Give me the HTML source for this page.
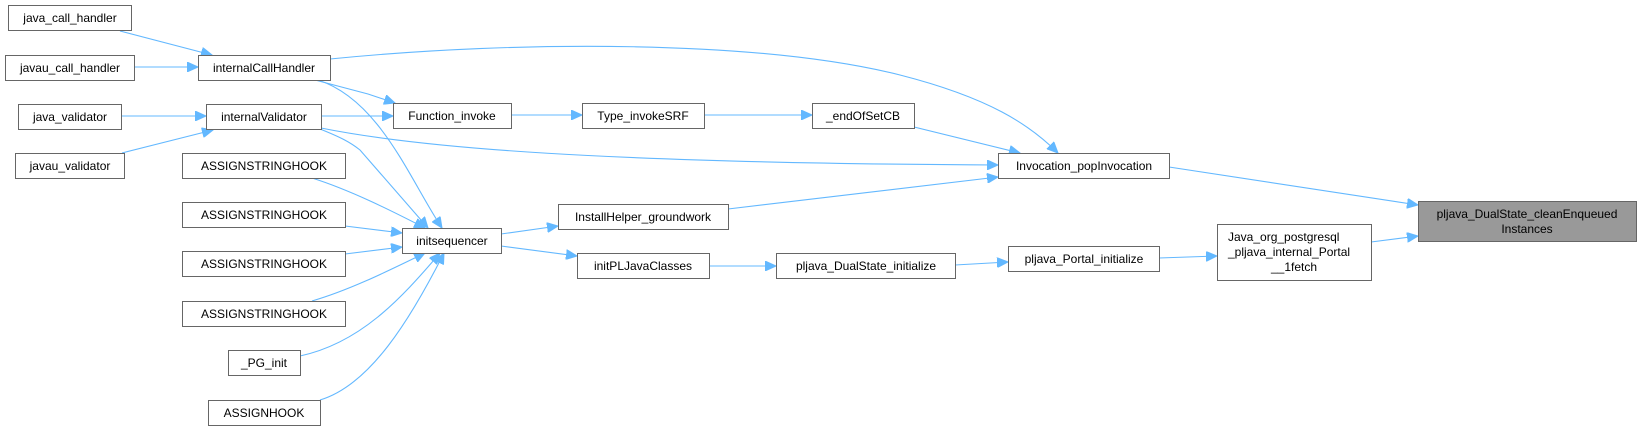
<!DOCTYPE html>
<html><head><meta charset="utf-8"><style>
html,body{margin:0;padding:0;background:#fff;}
svg{display:block;}
text{font-family:"Liberation Sans",Arial,sans-serif;font-size:12px;fill:#000;}
.n{fill:#fff;stroke:#666;stroke-width:1;}
.e{fill:none;stroke:#63b8ff;stroke-width:1.1;}
</style></head><body>
<svg width="1641" height="431" viewBox="0 0 1641 431" xmlns="http://www.w3.org/2000/svg">
<defs>
<marker id="a" markerUnits="userSpaceOnUse" markerWidth="12" markerHeight="10" refX="11" refY="5" orient="auto">
<path d="M0,0 L11,5 L0,10 Z" fill="#63b8ff" stroke="#63b8ff"/>
</marker>
</defs>
<g>
<path class="e" marker-end="url(#a)" d="M120,31 L212,55"/>
<path class="e" marker-end="url(#a)" d="M134,67 L198,67"/>
<path class="e" marker-end="url(#a)" d="M121,116 L206,116"/>
<path class="e" marker-end="url(#a)" d="M122,153 L213,130"/>
<path class="e" marker-end="url(#a)" d="M330,59 C520,40 760,40 900,75 C990,98 1030,125 1058,153"/>
<path class="e" marker-end="url(#a)" d="M315,80 L368,94 L395,103"/>
<path class="e" marker-end="url(#a)" d="M318,80 C380,100 410,180 442,228"/>
<path class="e" marker-end="url(#a)" d="M321,116 L393,116"/>
<path class="e" marker-end="url(#a)" d="M321,128 C420,148 600,163 998,165"/>
<path class="e" marker-end="url(#a)" d="M320,129 C340,137 350,142 360,150 L428,228"/>
<path class="e" marker-end="url(#a)" d="M312,178 C350,190 390,210 425,228"/>
<path class="e" marker-end="url(#a)" d="M345,226 L402,233"/>
<path class="e" marker-end="url(#a)" d="M345,254 L402,247"/>
<path class="e" marker-end="url(#a)" d="M312,301 C350,290 390,270 425,253"/>
<path class="e" marker-end="url(#a)" d="M300,356 C360,343 400,300 440,253"/>
<path class="e" marker-end="url(#a)" d="M320,400 C370,385 410,320 444,253"/>
<path class="e" marker-end="url(#a)" d="M511,115 L582,115"/>
<path class="e" marker-end="url(#a)" d="M704,115 L812,115"/>
<path class="e" marker-end="url(#a)" d="M914,127 L1020,153"/>
<path class="e" marker-end="url(#a)" d="M501,234 L558,226"/>
<path class="e" marker-end="url(#a)" d="M501,246 L577,256"/>
<path class="e" marker-end="url(#a)" d="M728,209 L998,177"/>
<path class="e" marker-end="url(#a)" d="M709,266 L776,266"/>
<path class="e" marker-end="url(#a)" d="M955,265 L1008,262"/>
<path class="e" marker-end="url(#a)" d="M1159,258 L1217,256"/>
<path class="e" marker-end="url(#a)" d="M1169,167 L1418,205"/>
<path class="e" marker-end="url(#a)" d="M1371,242 L1418,236"/>
</g>
<g>
<rect class="n" x="8.5" y="5.5" width="123" height="25"/><text x="70" y="22" text-anchor="middle">java_call_handler</text>
<rect class="n" x="5.5" y="55.5" width="129" height="25"/><text x="70" y="72" text-anchor="middle">javau_call_handler</text>
<rect class="n" x="18.5" y="104.5" width="103" height="25"/><text x="70" y="121" text-anchor="middle">java_validator</text>
<rect class="n" x="15.5" y="153.5" width="109" height="25"/><text x="70" y="170" text-anchor="middle">javau_validator</text>
<rect class="n" x="198.5" y="55.5" width="132" height="25"/><text x="264" y="72" text-anchor="middle">internalCallHandler</text>
<rect class="n" x="206.5" y="104.5" width="115" height="25"/><text x="264" y="121" text-anchor="middle">internalValidator</text>
<rect class="n" x="182.5" y="153.5" width="163" height="25"/><text x="264" y="170" text-anchor="middle">ASSIGNSTRINGHOOK</text>
<rect class="n" x="182.5" y="202.5" width="163" height="25"/><text x="264" y="219" text-anchor="middle">ASSIGNSTRINGHOOK</text>
<rect class="n" x="182.5" y="251.5" width="163" height="25"/><text x="264" y="268" text-anchor="middle">ASSIGNSTRINGHOOK</text>
<rect class="n" x="182.5" y="301.5" width="163" height="25"/><text x="264" y="318" text-anchor="middle">ASSIGNSTRINGHOOK</text>
<rect class="n" x="228.5" y="350.5" width="72" height="25"/><text x="264" y="367" text-anchor="middle">_PG_init</text>
<rect class="n" x="208.5" y="400.5" width="112" height="25"/><text x="264" y="417" text-anchor="middle">ASSIGNHOOK</text>
<rect class="n" x="402.5" y="228.5" width="99" height="25"/><text x="452" y="245" text-anchor="middle">initsequencer</text>
<rect class="n" x="393.5" y="103.5" width="118" height="25"/><text x="452" y="120" text-anchor="middle">Function_invoke</text>
<rect class="n" x="582.5" y="103.5" width="122" height="25"/><text x="643" y="120" text-anchor="middle">Type_invokeSRF</text>
<rect class="n" x="812.5" y="103.5" width="102" height="25"/><text x="863" y="120" text-anchor="middle">_endOfSetCB</text>
<rect class="n" x="558.5" y="204.5" width="170" height="25"/><text x="643" y="221" text-anchor="middle">InstallHelper_groundwork</text>
<rect class="n" x="577.5" y="253.5" width="132" height="25"/><text x="643" y="270" text-anchor="middle">initPLJavaClasses</text>
<rect class="n" x="776.5" y="253.5" width="179" height="25"/><text x="866" y="270" text-anchor="middle">pljava_DualState_initialize</text>
<rect class="n" x="998.5" y="153.5" width="171" height="25"/><text x="1084" y="170" text-anchor="middle">Invocation_popInvocation</text>
<rect class="n" x="1008.5" y="246.5" width="151" height="25"/><text x="1084" y="263" text-anchor="middle">pljava_Portal_initialize</text>
<rect class="n" x="1217.5" y="224.5" width="154" height="56"/>
<text x="1228" y="241">Java_org_postgresql</text>
<text x="1228" y="256">_pljava_internal_Portal</text>
<text x="1294" y="271" text-anchor="middle">__1fetch</text>
<rect x="1418.5" y="201.5" width="218" height="40" fill="#999" stroke="#666"/>
<text x="1527" y="218" text-anchor="middle">pljava_DualState_cleanEnqueued</text>
<text x="1527" y="233" text-anchor="middle">Instances</text>
</g>
</svg>
</body></html>
